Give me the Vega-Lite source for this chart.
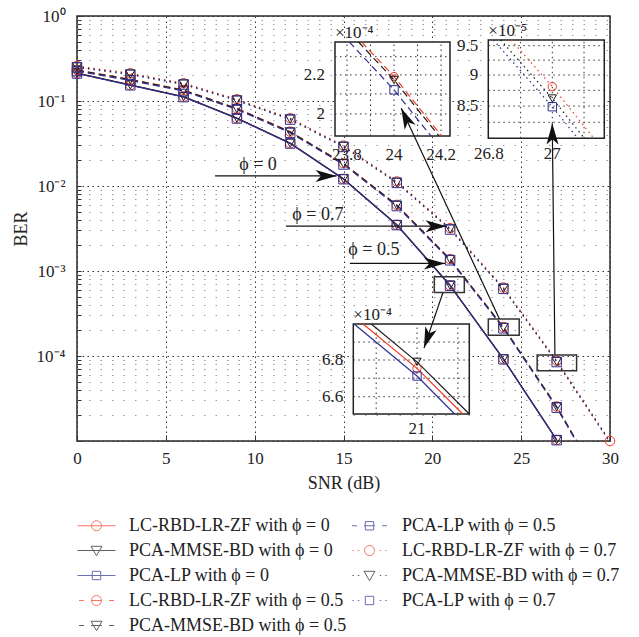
{
"$schema": "https://vega.github.io/schema/vega-lite/v6.json",
"width": 533, "height": 425,
"autosize": {"type": "none"},
"padding": {"left": 77, "top": 16, "right": 29, "bottom": 196},
"background": "white",
"config": {
  "view": {"stroke": "#2a2a2a", "strokeWidth": 1.5},
  "font": "Liberation Serif",
  "axis": {"labelFont": "Liberation Serif", "titleFont": "Liberation Serif", "labelFontSize": 17, "titleFontSize": 18, "labelColor": "#222", "titleColor": "#222", "titleFontWeight": "normal", "domain": false, "tickColor": "#333", "labelFlush": false, "labelOverlap": false},
  "legend": {"labelFont": "Liberation Serif", "labelFontSize": 18, "labelColor": "#222", "labelLimit": 400},
  "text": {"font": "Liberation Serif"},
  "rule": {"stroke": "#333", "strokeWidth": 1, "strokeDash": [1.5, 3.5]}
},
"datasets": {
  "curves": [
    {"algo":"LC-RBD-LR-ZF","phi":"0","snr":0,"ber":0.212},{"algo":"LC-RBD-LR-ZF","phi":"0","snr":3,"ber":0.154},{"algo":"LC-RBD-LR-ZF","phi":"0","snr":6,"ber":0.112},{"algo":"LC-RBD-LR-ZF","phi":"0","snr":9,"ber":0.0627},{"algo":"LC-RBD-LR-ZF","phi":"0","snr":12,"ber":0.0318},{"algo":"LC-RBD-LR-ZF","phi":"0","snr":15,"ber":0.0121},{"algo":"LC-RBD-LR-ZF","phi":"0","snr":18,"ber":0.00349},{"algo":"LC-RBD-LR-ZF","phi":"0","snr":21,"ber":0.0006754},{"algo":"LC-RBD-LR-ZF","phi":"0","snr":24,"ber":0.000092},{"algo":"LC-RBD-LR-ZF","phi":"0","snr":27,"ber":0.0000103},
    {"algo":"PCA-MMSE-BD","phi":"0","snr":0,"ber":0.2131},{"algo":"PCA-MMSE-BD","phi":"0","snr":3,"ber":0.1548},{"algo":"PCA-MMSE-BD","phi":"0","snr":6,"ber":0.1126},{"algo":"PCA-MMSE-BD","phi":"0","snr":9,"ber":0.063},{"algo":"PCA-MMSE-BD","phi":"0","snr":12,"ber":0.03196},{"algo":"PCA-MMSE-BD","phi":"0","snr":15,"ber":0.01216},{"algo":"PCA-MMSE-BD","phi":"0","snr":18,"ber":0.003507},{"algo":"PCA-MMSE-BD","phi":"0","snr":21,"ber":0.000679},{"algo":"PCA-MMSE-BD","phi":"0","snr":24,"ber":0.00009246},{"algo":"PCA-MMSE-BD","phi":"0","snr":27,"ber":0.00001035},
    {"algo":"PCA-LP","phi":"0","snr":0,"ber":0.2107},{"algo":"PCA-LP","phi":"0","snr":3,"ber":0.1531},{"algo":"PCA-LP","phi":"0","snr":6,"ber":0.1113},{"algo":"PCA-LP","phi":"0","snr":9,"ber":0.0623},{"algo":"PCA-LP","phi":"0","snr":12,"ber":0.03161},{"algo":"PCA-LP","phi":"0","snr":15,"ber":0.01203},{"algo":"PCA-LP","phi":"0","snr":18,"ber":0.003469},{"algo":"PCA-LP","phi":"0","snr":21,"ber":0.0006712},{"algo":"PCA-LP","phi":"0","snr":24,"ber":0.00009145},{"algo":"PCA-LP","phi":"0","snr":27,"ber":0.00001024},
    {"algo":"LC-RBD-LR-ZF","phi":"0.5","snr":0,"ber":0.232},{"algo":"LC-RBD-LR-ZF","phi":"0.5","snr":3,"ber":0.18},{"algo":"LC-RBD-LR-ZF","phi":"0.5","snr":6,"ber":0.135},{"algo":"LC-RBD-LR-ZF","phi":"0.5","snr":9,"ber":0.082},{"algo":"LC-RBD-LR-ZF","phi":"0.5","snr":12,"ber":0.0436},{"algo":"LC-RBD-LR-ZF","phi":"0.5","snr":15,"ber":0.0185},{"algo":"LC-RBD-LR-ZF","phi":"0.5","snr":18,"ber":0.006},{"algo":"LC-RBD-LR-ZF","phi":"0.5","snr":21,"ber":0.00138},{"algo":"LC-RBD-LR-ZF","phi":"0.5","snr":24,"ber":0.0002191},{"algo":"LC-RBD-LR-ZF","phi":"0.5","snr":27,"ber":0.0000255},{"algo":"LC-RBD-LR-ZF","phi":"0.5","snr":30,"ber":0.0000021},
    {"algo":"PCA-MMSE-BD","phi":"0.5","snr":0,"ber":0.2301},{"algo":"PCA-MMSE-BD","phi":"0.5","snr":3,"ber":0.1786},{"algo":"PCA-MMSE-BD","phi":"0.5","snr":6,"ber":0.1339},{"algo":"PCA-MMSE-BD","phi":"0.5","snr":9,"ber":0.08134},{"algo":"PCA-MMSE-BD","phi":"0.5","snr":12,"ber":0.04325},{"algo":"PCA-MMSE-BD","phi":"0.5","snr":15,"ber":0.01835},{"algo":"PCA-MMSE-BD","phi":"0.5","snr":18,"ber":0.005952},{"algo":"PCA-MMSE-BD","phi":"0.5","snr":21,"ber":0.001369},{"algo":"PCA-MMSE-BD","phi":"0.5","snr":24,"ber":0.0002173},{"algo":"PCA-MMSE-BD","phi":"0.5","snr":27,"ber":0.0000253},{"algo":"PCA-MMSE-BD","phi":"0.5","snr":30,"ber":0.00000208},
    {"algo":"PCA-LP","phi":"0.5","snr":0,"ber":0.2246},{"algo":"PCA-LP","phi":"0.5","snr":3,"ber":0.1742},{"algo":"PCA-LP","phi":"0.5","snr":6,"ber":0.1307},{"algo":"PCA-LP","phi":"0.5","snr":9,"ber":0.07938},{"algo":"PCA-LP","phi":"0.5","snr":12,"ber":0.0422},{"algo":"PCA-LP","phi":"0.5","snr":15,"ber":0.01791},{"algo":"PCA-LP","phi":"0.5","snr":18,"ber":0.005808},{"algo":"PCA-LP","phi":"0.5","snr":21,"ber":0.001336},{"algo":"PCA-LP","phi":"0.5","snr":24,"ber":0.0002121},{"algo":"PCA-LP","phi":"0.5","snr":27,"ber":0.00002468},{"algo":"PCA-LP","phi":"0.5","snr":30,"ber":0.00000203},
    {"algo":"LC-RBD-LR-ZF","phi":"0.7","snr":0,"ber":0.258},{"algo":"LC-RBD-LR-ZF","phi":"0.7","snr":3,"ber":0.212},{"algo":"LC-RBD-LR-ZF","phi":"0.7","snr":6,"ber":0.162},{"algo":"LC-RBD-LR-ZF","phi":"0.7","snr":9,"ber":0.105},{"algo":"LC-RBD-LR-ZF","phi":"0.7","snr":12,"ber":0.0627},{"algo":"LC-RBD-LR-ZF","phi":"0.7","snr":15,"ber":0.0299},{"algo":"LC-RBD-LR-ZF","phi":"0.7","snr":18,"ber":0.0113},{"algo":"LC-RBD-LR-ZF","phi":"0.7","snr":21,"ber":0.00319},{"algo":"LC-RBD-LR-ZF","phi":"0.7","snr":24,"ber":0.00064},{"algo":"LC-RBD-LR-ZF","phi":"0.7","snr":27,"ber":0.0000881},{"algo":"LC-RBD-LR-ZF","phi":"0.7","snr":30,"ber":0.00001},
    {"algo":"PCA-MMSE-BD","phi":"0.7","snr":0,"ber":0.2523},{"algo":"PCA-MMSE-BD","phi":"0.7","snr":3,"ber":0.2073},{"algo":"PCA-MMSE-BD","phi":"0.7","snr":6,"ber":0.1584},{"algo":"PCA-MMSE-BD","phi":"0.7","snr":9,"ber":0.1027},{"algo":"PCA-MMSE-BD","phi":"0.7","snr":12,"ber":0.06132},{"algo":"PCA-MMSE-BD","phi":"0.7","snr":15,"ber":0.02924},{"algo":"PCA-MMSE-BD","phi":"0.7","snr":18,"ber":0.01105},{"algo":"PCA-MMSE-BD","phi":"0.7","snr":21,"ber":0.00312},{"algo":"PCA-MMSE-BD","phi":"0.7","snr":24,"ber":0.0006259},{"algo":"PCA-MMSE-BD","phi":"0.7","snr":27,"ber":0.0000862},{"algo":"PCA-MMSE-BD","phi":"0.7","snr":30,"ber":0.00000978},
    {"algo":"PCA-LP","phi":"0.7","snr":0,"ber":0.2487},{"algo":"PCA-LP","phi":"0.7","snr":3,"ber":0.2044},{"algo":"PCA-LP","phi":"0.7","snr":6,"ber":0.1562},{"algo":"PCA-LP","phi":"0.7","snr":9,"ber":0.1012},{"algo":"PCA-LP","phi":"0.7","snr":12,"ber":0.06044},{"algo":"PCA-LP","phi":"0.7","snr":15,"ber":0.02882},{"algo":"PCA-LP","phi":"0.7","snr":18,"ber":0.01089},{"algo":"PCA-LP","phi":"0.7","snr":21,"ber":0.003075},{"algo":"PCA-LP","phi":"0.7","snr":24,"ber":0.000617},{"algo":"PCA-LP","phi":"0.7","snr":27,"ber":0.0000849},{"algo":"PCA-LP","phi":"0.7","snr":30,"ber":0.00000964}
  ],
  "inset1": [
    {"algo":"LC-RBD-LR-ZF","snr":23.862,"ber":0.0002384},{"algo":"LC-RBD-LR-ZF","snr":24,"ber":0.0002191},{"algo":"LC-RBD-LR-ZF","snr":24.202,"ber":0.0001895},
    {"algo":"PCA-MMSE-BD","snr":23.849,"ber":0.0002384},{"algo":"PCA-MMSE-BD","snr":24,"ber":0.0002173},{"algo":"PCA-MMSE-BD","snr":24.191,"ber":0.0001895},
    {"algo":"PCA-LP","snr":23.81,"ber":0.0002384},{"algo":"PCA-LP","snr":24,"ber":0.0002121},{"algo":"PCA-LP","snr":24.157,"ber":0.0001895}
  ],
  "inset2": [
    {"algo":"LC-RBD-LR-ZF","snr":26.87,"ber":0.000096},{"algo":"LC-RBD-LR-ZF","snr":27,"ber":0.0000881},{"algo":"LC-RBD-LR-ZF","snr":27.131,"ber":0.0000801},
    {"algo":"PCA-MMSE-BD","snr":26.837,"ber":0.000096},{"algo":"PCA-MMSE-BD","snr":27,"ber":0.0000862},{"algo":"PCA-MMSE-BD","snr":27.101,"ber":0.0000801},
    {"algo":"PCA-LP","snr":26.814,"ber":0.000096},{"algo":"PCA-LP","snr":27,"ber":0.0000849},{"algo":"PCA-LP","snr":27.08,"ber":0.0000801}
  ],
  "inset3": [
    {"algo":"LC-RBD-LR-ZF","snr":20.934,"ber":0.0007002},{"algo":"LC-RBD-LR-ZF","snr":21,"ber":0.0006754},{"algo":"LC-RBD-LR-ZF","snr":21.056,"ber":0.0006508},
    {"algo":"PCA-MMSE-BD","snr":20.944,"ber":0.0007002},{"algo":"PCA-MMSE-BD","snr":21,"ber":0.000679},{"algo":"PCA-MMSE-BD","snr":21.064,"ber":0.0006508},
    {"algo":"PCA-LP","snr":20.923,"ber":0.0007002},{"algo":"PCA-LP","snr":21,"ber":0.0006712},{"algo":"PCA-LP","snr":21.046,"ber":0.0006508}
  ],
  "arrows": [
    {"id":"p0","x":7.77,"y":0.01315,"x2":14.61,"y2":0.01315},
    {"id":"p7","x":11.76,"y":0.00337,"x2":20.8,"y2":0.00337},
    {"id":"p5","x":15.36,"y":0.001228,"x2":20.71,"y2":0.001228},
    {"id":"i3","x":20.6,"y":0.00056,"x2":19.53,"y2":0.000124},
    {"id":"i1","x":23.78,"y":0.0002717,"x2":18.25,"y2":0.0822},
    {"id":"i2","x":26.9,"y":0.0001026,"x2":26.75,"y2":0.0543}
  ],
  "zooms": [
    {"x":20.11,"x2":21.8,"y":0.00056,"y2":0.000855},
    {"x":23.15,"x2":24.89,"y":0.000176,"y2":0.000272},
    {"x":25.9,"x2":28.12,"y":0.0000671,"y2":0.0001026}
  ],
  "notes": [
    {"x":10.19,"y":0.01757,"text":"ϕ = 0"},
    {"x":13.56,"y":0.00454,"text":"ϕ = 0.7"},
    {"x":16.71,"y":0.00176,"text":"ϕ = 0.5"}
  ]
},
"layer": [
  {
    "data": {"name": "curves"},
    "encoding": {
      "x": {"field":"snr","type":"quantitative","scale":{"domain":[0,30],"nice":false,"zero":false},
        "axis":{"title":"SNR (dB)","values":[0,5,10,15,20,25,30],"format":"d","grid":true,"gridColor":"#333","gridDash":[1.5,3.5],"gridWidth":1,"ticks":true,"tickSize":-6,"labelPadding":15,"titlePadding":8}},
      "y": {"field":"ber","type":"quantitative","scale":{"type":"log","domain":[0.00001,1],"nice":false},
        "axis":{"title":"BER","values":[0.00001,0.00002,0.00003,0.00004,0.00005,0.00006,0.00007,0.00008,0.00009,0.0001,0.0002,0.0003,0.0004,0.0005,0.0006,0.0007,0.0008,0.0009,0.001,0.002,0.003,0.004,0.005,0.006,0.007,0.008,0.009,0.01,0.02,0.03,0.04,0.05,0.06,0.07,0.08,0.09,0.1,0.2,0.3,0.4,0.5,0.6,0.7,0.8,0.9,1],
          "labelExpr":"datum.value == 1 ? '10⁰' : datum.value == 0.1 ? '10⁻¹' : datum.value == 0.01 ? '10⁻²' : datum.value == 0.001 ? '10⁻³' : datum.value == 0.0001 ? '10⁻⁴' : ''",
          "grid":true,
          "gridColor":{"condition":{"test":"datum.value == 1 || datum.value == 0.1 || datum.value == 0.01 || datum.value == 0.001 || datum.value == 0.0001 || datum.value == 0.00001","value":"#333"},"value":"#999"},
          "gridDash":{"condition":{"test":"datum.value == 1 || datum.value == 0.1 || datum.value == 0.01 || datum.value == 0.001 || datum.value == 0.0001 || datum.value == 0.00001","value":[1.5,3.5]},"value":[1.5,10]},
          "gridWidth":1,"tickSize":-4,"labelPadding":16,"titlePadding":6}},
      "color": {"field":"algo","type":"nominal","scale":{"domain":["LC-RBD-LR-ZF","PCA-MMSE-BD","PCA-LP"],"range":["#ee3d26","#1e1e1e","#2f3192"]},"legend":null}
    },
    "layer": [
      {"mark":{"type":"line","clip":true,"strokeWidth":1.2},
       "encoding":{"strokeDash":{"field":"phi","type":"nominal","scale":{"domain":["0","0.5","0.7"],"range":[[1,0],[7,4],[1.5,4]]},"legend":null}}},
      {"transform":[{"filter":"datum.ber >= 0.00001"}],
       "mark":{"type":"point","filled":false,"strokeWidth":1,"opacity":1},
       "encoding":{
         "shape":{"field":"algo","type":"nominal","scale":{"domain":["LC-RBD-LR-ZF","PCA-MMSE-BD","PCA-LP"],"range":["circle","triangle-down","square"]},"legend":null},
         "size":{"field":"algo","type":"nominal","scale":{"domain":["LC-RBD-LR-ZF","PCA-MMSE-BD","PCA-LP"],"range":[90,90,60]},"legend":null}}}
    ]
  },
  {
    "layer": [
      {"data":{"values":[{}]},"mark":{"type":"rect","fill":"white","stroke":"#222","strokeWidth":1.5},
       "encoding":{
         "x":{"datum":23.749,"type":"quantitative","scale":{"domain":[23.749,24.238],"range":[258,373],"nice":false,"zero":false},"axis":null},
         "x2":{"datum":24.238},
         "y":{"datum":0.0001895,"type":"quantitative","scale":{"type":"log","domain":[0.0001895,0.0002384],"range":[120,26],"nice":false},"axis":null},
         "y2":{"datum":0.0002384}}},
      {"data":{"values":[{"v":23.8},{"v":23.9},{"v":24},{"v":24.1},{"v":24.2}]},"mark":{"type":"rule"},
       "encoding":{"x":{"field":"v","type":"quantitative","axis":null},"y":{"datum":0.0001895,"type":"quantitative","axis":null},"y2":{"datum":0.0002384}}},
      {"data":{"values":[{"v":0.0002},{"v":0.00021},{"v":0.00022},{"v":0.00023}]},"mark":{"type":"rule"},
       "encoding":{"y":{"field":"v","type":"quantitative","axis":null},"x":{"datum":23.749,"type":"quantitative","axis":null},"x2":{"datum":24.238}}},
      {"data":{"name":"inset1"},"mark":{"type":"line","strokeDash":[7,4],"strokeWidth":1.2},
       "encoding":{"x":{"field":"snr","type":"quantitative","axis":null},"y":{"field":"ber","type":"quantitative","axis":null},
         "color":{"field":"algo","type":"nominal","scale":{"domain":["LC-RBD-LR-ZF","PCA-MMSE-BD","PCA-LP"],"range":["#ee3d26","#1e1e1e","#2f3192"]},"legend":null}}},
      {"data":{"name":"inset1"},"transform":[{"filter":"datum.snr == 24"}],"mark":{"type":"point","filled":false,"strokeWidth":1,"opacity":1},
       "encoding":{"x":{"field":"snr","type":"quantitative","axis":null},"y":{"field":"ber","type":"quantitative","axis":null},
         "color":{"field":"algo","type":"nominal","legend":null},
         "shape":{"field":"algo","type":"nominal","scale":{"domain":["LC-RBD-LR-ZF","PCA-MMSE-BD","PCA-LP"],"range":["circle","triangle-down","square"]},"legend":null},
         "size":{"field":"algo","type":"nominal","scale":{"domain":["LC-RBD-LR-ZF","PCA-MMSE-BD","PCA-LP"],"range":[70,70,50]},"legend":null}}},
      {"data":{"values":[{"v":23.8,"t":"23.8"},{"v":24,"t":"24"},{"v":24.2,"t":"24.2"}]},"mark":{"type":"text","baseline":"middle","align":"center","dy":19,"fontSize":17,"color":"#222"},
       "encoding":{"x":{"field":"v","type":"quantitative","axis":null},"y":{"datum":0.0001895,"type":"quantitative","axis":null},"text":{"field":"t"}}},
      {"data":{"values":[{"v":0.0002,"t":"2"},{"v":0.00022,"t":"2.2"}]},"mark":{"type":"text","baseline":"middle","align":"right","dx":-10,"fontSize":17,"color":"#222"},
       "encoding":{"y":{"field":"v","type":"quantitative","axis":null},"x":{"datum":23.749,"type":"quantitative","axis":null},"text":{"field":"t"}}},
      {"data":{"values":[{}]},"mark":{"type":"text","align":"left","baseline":"alphabetic","dy":-4,"fontSize":17,"color":"#222"},
       "encoding":{"x":{"datum":23.749,"type":"quantitative","axis":null},"y":{"datum":0.0002384,"type":"quantitative","axis":null},"text":{"value":"×10⁻⁴"}}}
    ]
  },
  {
    "layer": [
      {"data":{"values":[{}]},"mark":{"type":"rect","fill":"white","stroke":"#222","strokeWidth":1.5},
       "encoding":{
         "x":{"datum":26.798,"type":"quantitative","scale":{"domain":[26.798,27.164],"range":[411.3,527.3],"nice":false,"zero":false},"axis":null},
         "x2":{"datum":27.164},
         "y":{"datum":0.0000801,"type":"quantitative","scale":{"type":"log","domain":[0.0000801,0.000096],"range":[122.3,24],"nice":false},"axis":null},
         "y2":{"datum":0.000096}}},
      {"data":{"values":[{"v":26.9},{"v":27},{"v":27.1}]},"mark":{"type":"rule"},
       "encoding":{"x":{"field":"v","type":"quantitative","axis":null},"y":{"datum":0.0000801,"type":"quantitative","axis":null},"y2":{"datum":0.000096}}},
      {"data":{"values":[{"v":0.0000825},{"v":0.000085},{"v":0.0000875},{"v":0.00009},{"v":0.0000925},{"v":0.000095}]},"mark":{"type":"rule"},
       "encoding":{"y":{"field":"v","type":"quantitative","axis":null},"x":{"datum":26.798,"type":"quantitative","axis":null},"x2":{"datum":27.164}}},
      {"data":{"name":"inset2"},"mark":{"type":"line","strokeDash":[1.5,3.5],"strokeWidth":1.2},
       "encoding":{"x":{"field":"snr","type":"quantitative","axis":null},"y":{"field":"ber","type":"quantitative","axis":null},
         "color":{"field":"algo","type":"nominal","scale":{"domain":["LC-RBD-LR-ZF","PCA-MMSE-BD","PCA-LP"],"range":["#ee3d26","#1e1e1e","#2f3192"]},"legend":null}}},
      {"data":{"name":"inset2"},"transform":[{"filter":"datum.snr == 27"}],"mark":{"type":"point","filled":false,"strokeWidth":1,"opacity":1},
       "encoding":{"x":{"field":"snr","type":"quantitative","axis":null},"y":{"field":"ber","type":"quantitative","axis":null},
         "color":{"field":"algo","type":"nominal","legend":null},
         "shape":{"field":"algo","type":"nominal","scale":{"domain":["LC-RBD-LR-ZF","PCA-MMSE-BD","PCA-LP"],"range":["circle","triangle-down","square"]},"legend":null},
         "size":{"field":"algo","type":"nominal","scale":{"domain":["LC-RBD-LR-ZF","PCA-MMSE-BD","PCA-LP"],"range":[70,70,50]},"legend":null}}},
      {"data":{"values":[{"v":26.8,"t":"26.8"},{"v":27,"t":"27"}]},"mark":{"type":"text","baseline":"middle","align":"center","dy":16,"fontSize":17,"color":"#222"},
       "encoding":{"x":{"field":"v","type":"quantitative","axis":null},"y":{"datum":0.0000801,"type":"quantitative","axis":null},"text":{"field":"t"}}},
      {"data":{"values":[{"v":0.000085,"t":"8.5"},{"v":0.00009,"t":"9"},{"v":0.000095,"t":"9.5"}]},"mark":{"type":"text","baseline":"middle","align":"right","dx":-10,"fontSize":17,"color":"#222"},
       "encoding":{"y":{"field":"v","type":"quantitative","axis":null},"x":{"datum":26.798,"type":"quantitative","axis":null},"text":{"field":"t"}}},
      {"data":{"values":[{}]},"mark":{"type":"text","align":"left","baseline":"alphabetic","dy":-4,"fontSize":17,"color":"#222"},
       "encoding":{"x":{"datum":26.798,"type":"quantitative","axis":null},"y":{"datum":0.000096,"type":"quantitative","axis":null},"text":{"value":"×10⁻⁵"}}}
    ]
  },
  {
    "layer": [
      {"data":{"values":[{}]},"mark":{"type":"rect","fill":"white","stroke":"#222","strokeWidth":1.5},
       "encoding":{
         "x":{"datum":20.922,"type":"quantitative","scale":{"domain":[20.922,21.064],"range":[276.3,392.3],"nice":false,"zero":false},"axis":null},
         "x2":{"datum":21.064},
         "y":{"datum":0.0006508,"type":"quantitative","scale":{"type":"log","domain":[0.0006508,0.0007002],"range":[398,308],"nice":false},"axis":null},
         "y2":{"datum":0.0007002}}},
      {"data":{"values":[{"v":20.95},{"v":21},{"v":21.05}]},"mark":{"type":"rule"},
       "encoding":{"x":{"field":"v","type":"quantitative","axis":null},"y":{"datum":0.0006508,"type":"quantitative","axis":null},"y2":{"datum":0.0007002}}},
      {"data":{"values":[{"v":0.00066},{"v":0.00067},{"v":0.00068},{"v":0.00069}]},"mark":{"type":"rule"},
       "encoding":{"y":{"field":"v","type":"quantitative","axis":null},"x":{"datum":20.922,"type":"quantitative","axis":null},"x2":{"datum":21.064}}},
      {"data":{"name":"inset3"},"mark":{"type":"line","strokeWidth":1.2},
       "encoding":{"x":{"field":"snr","type":"quantitative","axis":null},"y":{"field":"ber","type":"quantitative","axis":null},
         "color":{"field":"algo","type":"nominal","scale":{"domain":["LC-RBD-LR-ZF","PCA-MMSE-BD","PCA-LP"],"range":["#ee3d26","#1e1e1e","#2f3192"]},"legend":null}}},
      {"data":{"name":"inset3"},"transform":[{"filter":"datum.snr == 21"}],"mark":{"type":"point","filled":false,"strokeWidth":1,"opacity":1},
       "encoding":{"x":{"field":"snr","type":"quantitative","axis":null},"y":{"field":"ber","type":"quantitative","axis":null},
         "color":{"field":"algo","type":"nominal","legend":null},
         "shape":{"field":"algo","type":"nominal","scale":{"domain":["LC-RBD-LR-ZF","PCA-MMSE-BD","PCA-LP"],"range":["circle","triangle-down","square"]},"legend":null},
         "size":{"field":"algo","type":"nominal","scale":{"domain":["LC-RBD-LR-ZF","PCA-MMSE-BD","PCA-LP"],"range":[70,70,50]},"legend":null}}},
      {"data":{"values":[{"v":21,"t":"21"}]},"mark":{"type":"text","baseline":"middle","align":"center","dy":15,"fontSize":17,"color":"#222"},
       "encoding":{"x":{"field":"v","type":"quantitative","axis":null},"y":{"datum":0.0006508,"type":"quantitative","axis":null},"text":{"field":"t"}}},
      {"data":{"values":[{"v":0.00066,"t":"6.6"},{"v":0.00068,"t":"6.8"}]},"mark":{"type":"text","baseline":"middle","align":"right","dx":-10,"fontSize":17,"color":"#222"},
       "encoding":{"y":{"field":"v","type":"quantitative","axis":null},"x":{"datum":20.922,"type":"quantitative","axis":null},"text":{"field":"t"}}},
      {"data":{"values":[{}]},"mark":{"type":"text","align":"left","baseline":"alphabetic","dy":-4,"fontSize":17,"color":"#222"},
       "encoding":{"x":{"datum":20.922,"type":"quantitative","axis":null},"y":{"datum":0.0007002,"type":"quantitative","axis":null},"text":{"value":"×10⁻⁴"}}}
    ]
  },
  {
    "layer": [
      {"data":{"name":"arrows"},"mark":{"type":"rule","stroke":"#111","strokeWidth":1.2,"strokeDash":[1,0]},
       "encoding":{
         "x":{"field":"x","type":"quantitative","scale":{"domain":[0,30],"nice":false,"zero":false},
           "axis":{"orient":"top","values":[0,5,10,15,20,25,30],"labels":false,"ticks":true,"tickSize":-6,"grid":false,"title":null}},
         "y":{"field":"y","type":"quantitative","scale":{"type":"log","domain":[0.00001,1],"nice":false},
           "axis":{"orient":"right","values":[0.00001,0.00002,0.00003,0.00004,0.00005,0.00006,0.00007,0.00008,0.00009,0.0001,0.0002,0.0003,0.0004,0.0005,0.0006,0.0007,0.0008,0.0009,0.001,0.002,0.003,0.004,0.005,0.006,0.007,0.008,0.009,0.01,0.02,0.03,0.04,0.05,0.06,0.07,0.08,0.09,0.1,0.2,0.3,0.4,0.5,0.6,0.7,0.8,0.9,1],"labels":false,"ticks":true,"tickSize":-4,"grid":false,"title":null}},
         "x2":{"field":"x2"},"y2":{"field":"y2"}}},
      {"data":{"name":"arrows"},"transform":[{"filter":"datum.id == 'p0' || datum.id == 'p7' || datum.id == 'p5'"}],
       "mark":{"type":"point","shape":"M0,0L-1.75,-0.5L-1.3,0L-1.75,0.5Z","filled":true,"color":"#111","size":576,"angle":0,"opacity":1,"strokeWidth":0},
       "encoding":{"x":{"field":"x2","type":"quantitative","scale":{"domain":[0,30],"nice":false,"zero":false},"axis":null},"y":{"field":"y2","type":"quantitative","scale":{"type":"log","domain":[0.00001,1],"nice":false},"axis":null}}},
      {"data":{"name":"arrows"},"transform":[{"filter":"datum.id == 'i3'"}],
       "mark":{"type":"point","shape":"M0,0L-1.75,-0.5L-1.3,0L-1.75,0.5Z","filled":true,"color":"#111","size":576,"angle":109.4,"opacity":1,"strokeWidth":0},
       "encoding":{"x":{"field":"x2","type":"quantitative","scale":{"domain":[0,30],"nice":false,"zero":false},"axis":null},"y":{"field":"y2","type":"quantitative","scale":{"type":"log","domain":[0.00001,1],"nice":false},"axis":null}}},
      {"data":{"name":"arrows"},"transform":[{"filter":"datum.id == 'i1'"}],
       "mark":{"type":"point","shape":"M0,0L-1.75,-0.5L-1.3,0L-1.75,0.5Z","filled":true,"color":"#111","size":576,"angle":245,"opacity":1,"strokeWidth":0},
       "encoding":{"x":{"field":"x2","type":"quantitative","scale":{"domain":[0,30],"nice":false,"zero":false},"axis":null},"y":{"field":"y2","type":"quantitative","scale":{"type":"log","domain":[0.00001,1],"nice":false},"axis":null}}},
      {"data":{"name":"arrows"},"transform":[{"filter":"datum.id == 'i2'"}],
       "mark":{"type":"point","shape":"M0,0L-1.75,-0.5L-1.3,0L-1.75,0.5Z","filled":true,"color":"#111","size":576,"angle":269.3,"opacity":1,"strokeWidth":0},
       "encoding":{"x":{"field":"x2","type":"quantitative","scale":{"domain":[0,30],"nice":false,"zero":false},"axis":null},"y":{"field":"y2","type":"quantitative","scale":{"type":"log","domain":[0.00001,1],"nice":false},"axis":null}}},
      {"data":{"name":"zooms"},"mark":{"type":"rect","fill":"transparent","stroke":"#333","strokeWidth":1.5},
       "encoding":{"x":{"field":"x","type":"quantitative","scale":{"domain":[0,30],"nice":false,"zero":false},"axis":null},"x2":{"field":"x2"},
         "y":{"field":"y","type":"quantitative","scale":{"type":"log","domain":[0.00001,1],"nice":false},"axis":null},"y2":{"field":"y2"}}},
      {"data":{"name":"notes"},"mark":{"type":"text","fontSize":18,"color":"#222","align":"center","baseline":"middle"},
       "encoding":{"x":{"field":"x","type":"quantitative","scale":{"domain":[0,30],"nice":false,"zero":false},"axis":null},
         "y":{"field":"y","type":"quantitative","scale":{"type":"log","domain":[0.00001,1],"nice":false},"axis":null},"text":{"field":"text"}}}
    ]
  },
  {
    "data": {"values": [{"s": "x"}]},
    "transform": [{"filter": "false"}],
    "mark": {"type": "point", "filled": false, "strokeWidth": 1},
    "encoding": {
      "color": {"field":"s","type":"nominal",
        "scale":{"domain":["LC-RBD-LR-ZF with ϕ = 0","PCA-MMSE-BD with ϕ = 0","PCA-LP with ϕ = 0","LC-RBD-LR-ZF with ϕ = 0.5","PCA-MMSE-BD with ϕ = 0.5","PCA-LP with ϕ = 0.5","LC-RBD-LR-ZF with ϕ = 0.7","PCA-MMSE-BD with ϕ = 0.7","PCA-LP with ϕ = 0.7"],
          "range":["#ee3d26","#1e1e1e","#2f3192","#ee3d26","#1e1e1e","#2f3192","#ee3d26","#1e1e1e","#2f3192"]},
        "legend":{"orient":"none","legendX":9,"legendY":499,"columns":2,"title":null,"symbolSize":400,"symbolStrokeWidth":1,"labelOffset":22,"rowPadding":5,"columnPadding":3,"padding":0,"labelFontSize":18,"labelLimit":400}},
      "shape": {"field":"s","type":"nominal",
        "scale":{"domain":["LC-RBD-LR-ZF with ϕ = 0","PCA-MMSE-BD with ϕ = 0","PCA-LP with ϕ = 0","LC-RBD-LR-ZF with ϕ = 0.5","PCA-MMSE-BD with ϕ = 0.5","PCA-LP with ϕ = 0.5","LC-RBD-LR-ZF with ϕ = 0.7","PCA-MMSE-BD with ϕ = 0.7","PCA-LP with ϕ = 0.7"],
          "range":[
            "M-1.9,0L1.9,0M0.5,0C0.5,0.276,0.276,0.5,0,0.5C-0.276,0.5,-0.5,0.276,-0.5,0C-0.5,-0.276,-0.276,-0.5,0,-0.5C0.276,-0.5,0.5,-0.276,0.5,0Z",
            "M-1.9,0L1.9,0M-0.55,-0.42L0.55,-0.42L0,0.52Z",
            "M-1.9,0L1.9,0M-0.42,-0.42L0.42,-0.42L0.42,0.42L-0.42,0.42Z",
            "M-1.75,0L-1.25,0M-0.55,0L0.55,0M1.25,0L1.75,0M0.5,0C0.5,0.276,0.276,0.5,0,0.5C-0.276,0.5,-0.5,0.276,-0.5,0C-0.5,-0.276,-0.276,-0.5,0,-0.5C0.276,-0.5,0.5,-0.276,0.5,0Z",
            "M-1.75,0L-1.25,0M-0.55,0L0.55,0M1.25,0L1.75,0M-0.55,-0.42L0.55,-0.42L0,0.52Z",
            "M-1.75,0L-1.25,0M-0.55,0L0.55,0M1.25,0L1.75,0M-0.42,-0.42L0.42,-0.42L0.42,0.42L-0.42,0.42Z",
            "M-1.72,0L-1.58,0M-1.17,0L-1.03,0M1.03,0L1.17,0M1.58,0L1.72,0M0.5,0C0.5,0.276,0.276,0.5,0,0.5C-0.276,0.5,-0.5,0.276,-0.5,0C-0.5,-0.276,-0.276,-0.5,0,-0.5C0.276,-0.5,0.5,-0.276,0.5,0Z",
            "M-1.72,0L-1.58,0M-1.17,0L-1.03,0M1.03,0L1.17,0M1.58,0L1.72,0M-0.55,-0.42L0.55,-0.42L0,0.52Z",
            "M-1.72,0L-1.58,0M-1.17,0L-1.03,0M1.03,0L1.17,0M1.58,0L1.72,0M-0.42,-0.42L0.42,-0.42L0.42,0.42L-0.42,0.42Z"
          ]},
        "legend":{"orient":"none","legendX":9,"legendY":499,"columns":2,"title":null,"symbolSize":400,"symbolStrokeWidth":1,"labelOffset":22,"rowPadding":5,"columnPadding":3,"padding":0,"labelFontSize":18,"labelLimit":400}}
    }
  }
],
"resolve": {"scale": {"x": "independent", "y": "independent", "color": "independent", "shape": "independent", "size": "independent", "strokeDash": "independent"}}
}
